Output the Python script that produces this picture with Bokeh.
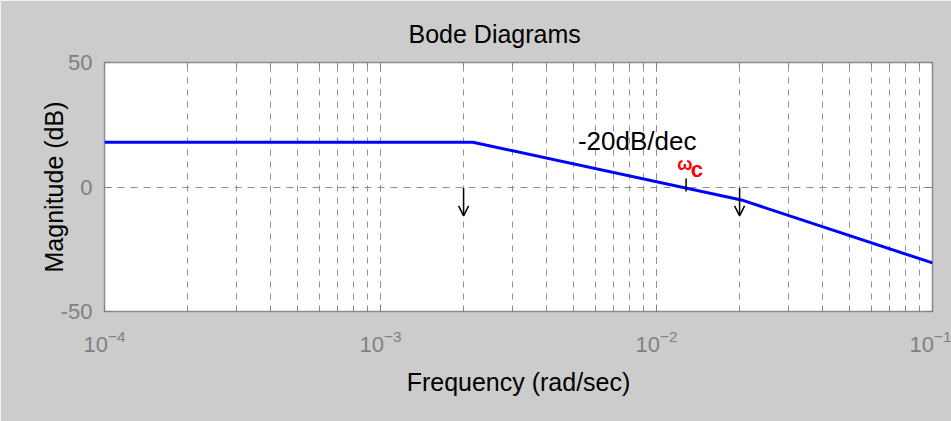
from bokeh.plotting import figure
from bokeh.models import (Range1d, LinearAxis, LogAxis, FixedTicker, Label,
                          Arrow, OpenHead, CustomJSTickFormatter)
from bokeh.embed import file_html
from bokeh.resources import INLINE

# ---- data ----
freq = [1e-4, 2.16e-3, 2.03e-2, 1e-1]          # rad/sec (corner points of the curve)
mag_db = [18.0, 18.0, -5.2, -30.5]             # dB
x_limits = [1e-4, 1e-1]
y_limits = [-50, 50]
y_ticks = [-50, 0, 50]
y_tick_labels = {-50: "-50", 0: "0", 50: "50"}
break_freqs = [2e-3, 2e-2]                     # arrows marking the corner frequencies
wc_freq = 1.28e-2                              # gain crossover frequency
slope_text = "-20dB/dec"
title_text = "Bode Diagrams"

# ---- annotation placement (data units) ----
arrow_top, arrow_bottom = -0.4, -11.6
wc_tick_top, wc_tick_bottom = 3.4, -1.8
slope_label_pos = (5.19e-3, 18.3)
omega_pos = (1.188e-2, 9.4)
c_pos = (1.33e-2, 7.0)

FONT = "Liberation Sans"
GRAY = "#808080"
BG = "#cccccc"

p = figure(width=951, height=421, x_axis_type="log",
           x_range=Range1d(*x_limits), y_range=Range1d(*y_limits),
           output_backend="svg", toolbar_location=None,
           min_border_left=104, min_border_right=19, min_border_top=62, min_border_bottom=110,
           background_fill_color="white", border_fill_color=BG,
           outline_line_color="#8c8c8c", outline_line_width=1.5)

p.title.text = title_text
p.title.align = "left"
p.title.offset = 304
p.title.standoff = 30
p.title.text_font = FONT
p.title.text_font_size = "25px"
p.title.text_font_style = "normal"
p.title.text_color = "black"


def style_axis(ax):
    ax.axis_line_color = None
    ax.major_tick_in = 7
    ax.major_tick_out = 0
    ax.minor_tick_in = 4
    ax.minor_tick_out = 0
    ax.major_tick_line_color = GRAY
    ax.minor_tick_line_color = GRAY
    ax.major_label_text_color = GRAY
    ax.major_label_text_font = FONT
    ax.major_label_text_font_size = "22px"
    ax.axis_label_text_font = FONT
    ax.axis_label_text_font_size = "25px"
    ax.axis_label_text_font_style = "normal"
    ax.axis_label_text_color = "black"


xa = p.xaxis[0]
ya = p.yaxis[0]
style_axis(xa)
style_axis(ya)
ya.ticker = FixedTicker(ticks=y_ticks)
ya.major_label_overrides = y_tick_labels
ya.minor_tick_in = 0
xa.axis_label = "Frequency (rad/sec)"
ya.axis_label = "Magnitude (dB)"
xa.major_label_standoff = 18
xa.axis_label_standoff = 13
ya.major_label_standoff = 12
ya.axis_label_standoff = -10

blank = CustomJSTickFormatter(code="return ''")
top = LogAxis(ticker=xa.ticker, formatter=blank)
style_axis(top)
top.major_label_standoff = 0
right = LinearAxis(ticker=FixedTicker(ticks=y_ticks), formatter=blank)
style_axis(right)
right.minor_tick_in = 0
p.add_layout(top, "above")
p.add_layout(right, "right")

p.xgrid.grid_line_color = "#909090"
p.xgrid.grid_line_dash = "6 6"
p.xgrid.minor_grid_line_color = "#909090"
p.xgrid.minor_grid_line_dash = "6 6"
p.ygrid.ticker = FixedTicker(ticks=y_ticks)
p.ygrid.grid_line_color = "#909090"
p.ygrid.grid_line_dash = "7 6"

p.line(freq, mag_db, line_color="#0000ff", line_width=3)

for f in break_freqs:
    p.add_layout(Arrow(end=OpenHead(size=10, line_width=1.5, line_color="black"),
                       x_start=f, y_start=arrow_top, x_end=f, y_end=arrow_bottom,
                       line_width=1.5, line_color="black"))

p.segment(x0=[wc_freq], y0=[wc_tick_top], x1=[wc_freq], y1=[wc_tick_bottom],
          line_color="black", line_width=1.5)

p.add_layout(Label(x=slope_label_pos[0], y=slope_label_pos[1], text=slope_text,
                   text_font=FONT, text_font_size="26px", text_baseline="alphabetic",
                   text_color="black"))
p.add_layout(Label(x=omega_pos[0], y=omega_pos[1], text="ω",
                   text_font=FONT, text_font_size="18px", text_font_style="bold",
                   text_baseline="alphabetic", text_color="#ff0000"))
p.add_layout(Label(x=c_pos[0], y=c_pos[1], text="c",
                   text_font=FONT, text_font_size="22px", text_font_style="bold",
                   text_baseline="alphabetic", text_color="#ff0000"))

open("out.html", "w").write(file_html(p, INLINE))
